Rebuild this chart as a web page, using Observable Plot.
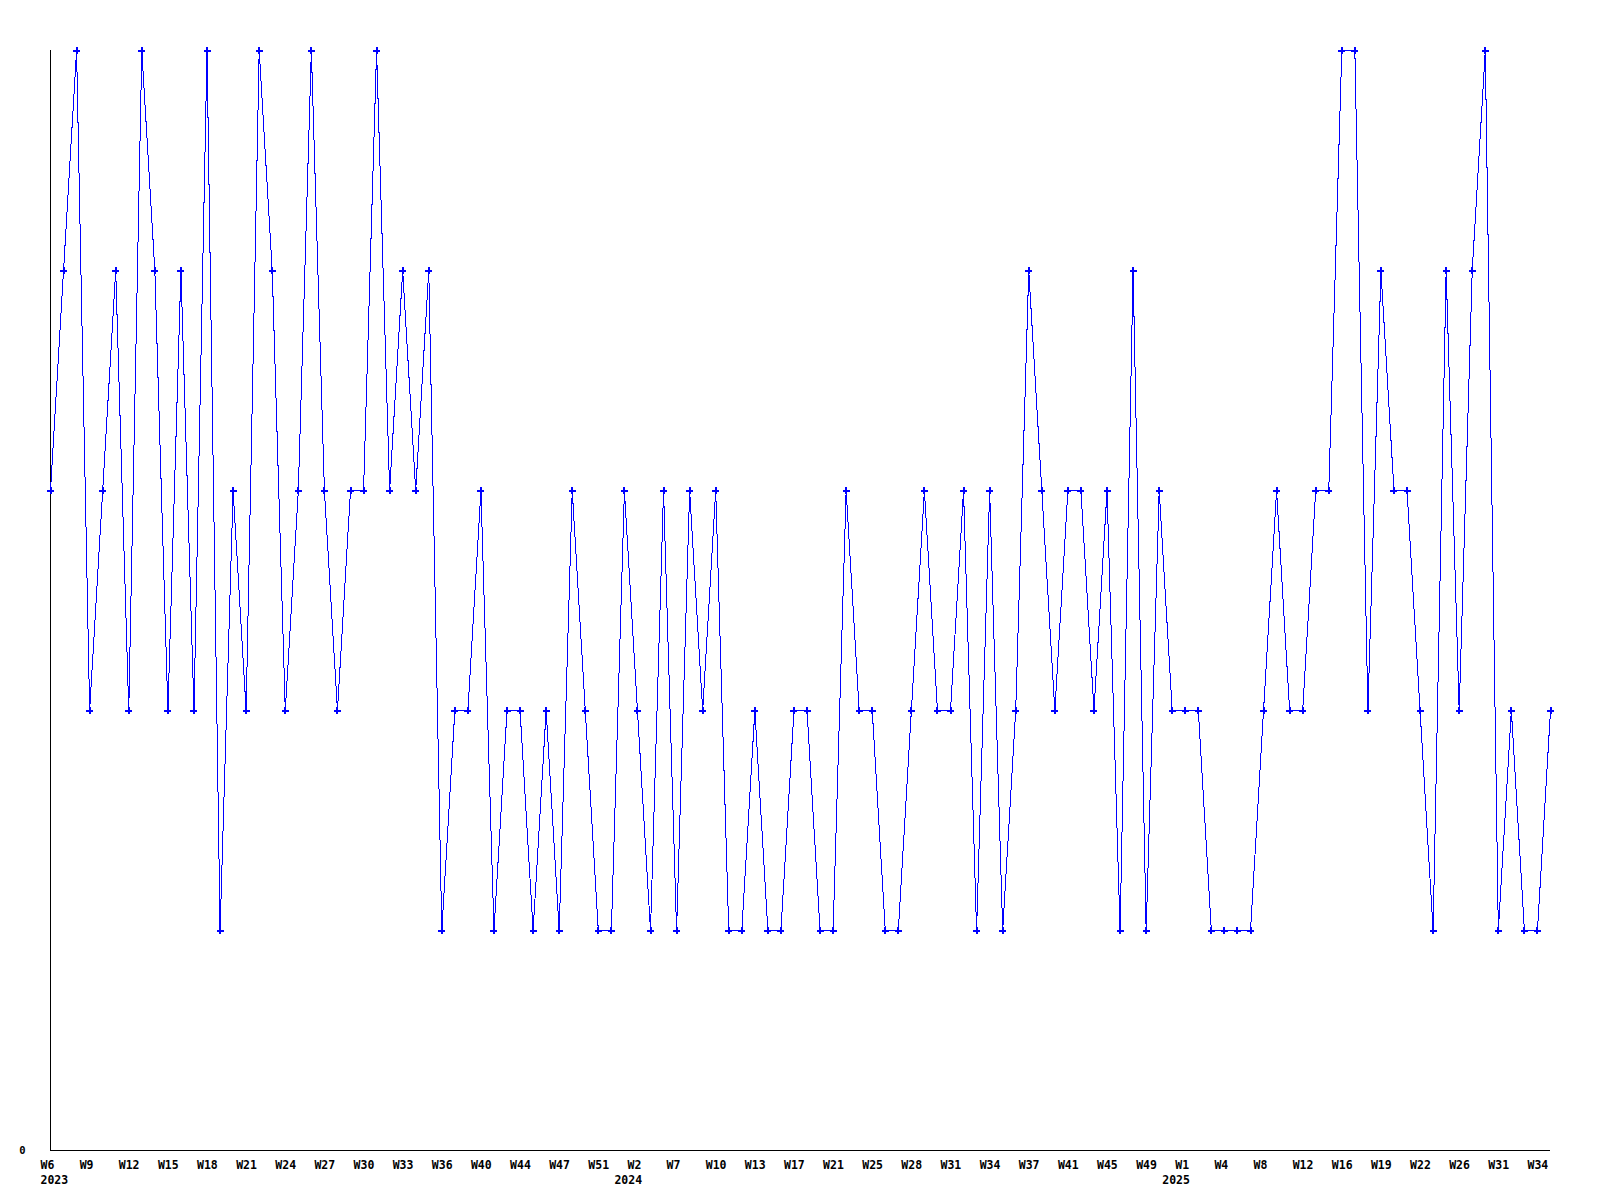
<!DOCTYPE html>
<html>
<head>
<meta charset="utf-8">
<script src="https://cdn.jsdelivr.net/npm/d3@7"></script>
<script src="https://cdn.jsdelivr.net/npm/@observablehq/plot@0.6"></script>
<style>
  html, body { margin: 0; padding: 0; background: #ffffff; }
  #chart svg { display: block; }
</style>
</head>
<body>
<div id="chart"></div>
<script>
// Series values, one per entry (index order)
const values = [
  3,4,5,2,3,4,2,5,4,2,
  4,2,5,1,3,2,5,4,2,3,
  5,3,2,3,3,5,3,4,3,4,
  1,2,2,3,1,2,2,1,2,1,
  3,2,1,1,3,2,1,3,1,3,
  2,3,1,1,2,1,1,2,2,1,
  1,3,2,2,1,1,2,3,2,2,
  3,1,3,1,2,4,3,2,3,3,
  2,3,1,4,1,3,2,2,2,1,
  1,1,1,2,3,2,2,3,3,5,
  5,2,4,3,3,2,1,4,2,4,
  5,1,2,1,1,2
];

// Tick labels, shown on every 3rd entry
const tickLabels = [
  "W6","W9","W12","W15","W18","W21","W24","W27","W30","W33","W36","W40","W44",
  "W47","W51","W2","W7","W10","W13","W17","W21","W25","W28","W31","W34","W37",
  "W41","W45","W49","W1","W4","W8","W12","W16","W19","W22","W26","W31","W34"
];
const tickStep = 3;

// Year labels and the entry where each year starts
const yearLabels = ["2023", "2024", "2025"];
const yearIndex = [0, 44, 86];

const data = values.map((v, i) => ({i, v}));
const tickIdx = tickLabels.map((_, k) => k * tickStep);
const tickMap = new Map(tickIdx.map((t, k) => [t, tickLabels[k]]));
const yearMap = new Map(yearIndex.map((t, k) => [t, yearLabels[k]]));

const font = "'DejaVu Sans Mono', 'Liberation Mono', monospace";

const chart = Plot.plot({
  width: 1600,
  height: 1200,
  marginLeft: 50,
  marginRight: 50,
  marginTop: 50,
  marginBottom: 50,
  style: {background: "#ffffff", color: "#000000"},
  x: {type: "linear", domain: [0, values.length - 1]},
  y: {domain: [0, 5]},
  marks: [
    Plot.ruleX([0], {stroke: "#000000", strokeWidth: 1, shapeRendering: "crispEdges"}),
    Plot.ruleY([0], {stroke: "#000000", strokeWidth: 1, shapeRendering: "crispEdges"}),
    Plot.line(data, {x: "i", y: "v", stroke: "#0000ff", strokeWidth: 1, shapeRendering: "crispEdges"}),
    Plot.dot(data, {x: "i", y: "v", symbol: "plus", r: 2.4, stroke: "#0000ff", strokeWidth: 2, shapeRendering: "crispEdges"}),
    Plot.axisX({
      ticks: tickIdx, tickFormat: d => tickMap.get(d), tickSize: 0, tickPadding: 10,
      textAnchor: "start", dx: -10, fontSize: 11.5, fontWeight: "bold", fontFamily: font,
      fill: "#000000", label: null
    }),
    Plot.axisX({
      ticks: yearIndex, tickFormat: d => yearMap.get(d), tickSize: 0, tickPadding: 25,
      textAnchor: "start", dx: -10, fontSize: 11.5, fontWeight: "bold", fontFamily: font,
      fill: "#000000", label: null
    }),
    Plot.axisY({
      ticks: [0], tickFormat: d => String(d), tickSize: 0, tickPadding: 25,
      fontSize: 10.5, fontWeight: "bold", fontFamily: font, fill: "#000000", label: null
    })
  ]
});
document.getElementById("chart").appendChild(chart);
</script>
</body>
</html>
